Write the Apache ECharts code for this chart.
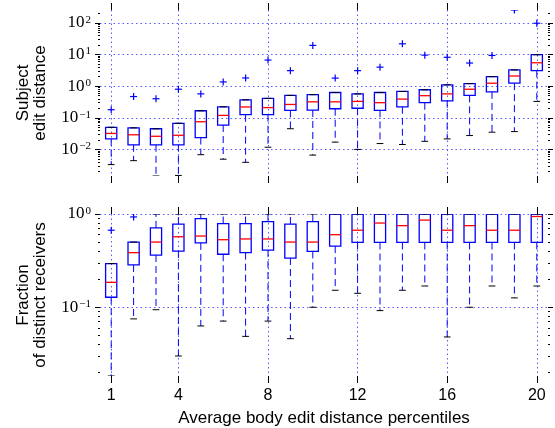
<!DOCTYPE html>
<html>
<head>
<meta charset="utf-8">
<script src="https://cdn.jsdelivr.net/npm/echarts@6/dist/echarts.min.js"></script>
<style>
  html, body { margin: 0; padding: 0; background: #fff; }
  #main { width: 555px; height: 428px; }
</style>
</head>
<body>
<div id="main"></div>
<script>
// percentile bins on the x axis
var bins = [1, 2, 3, 4, 5, 6, 7, 8, 9, 10, 11, 12, 13, 14, 15, 16, 17, 18, 19, 20];
var xTicks = [1, 4, 8, 12, 16, 20];

// top panel: subject edit distance (log scale)
var subjLow  = [0.0033, 0.0044, 0.00144, 0.0015, 0.0068, 0.0049, 0.0039, 0.0117, 0.045, 0.0066, 0.017, 0.01, 0.0153, 0.0143, 0.018, 0.0215, 0.0274, 0.035, 0.0366, 0.33];
var subjQ1   = [0.0215, 0.014, 0.014, 0.014, 0.0237, 0.059, 0.125, 0.125, 0.171, 0.176, 0.193, 0.2, 0.171, 0.223, 0.3, 0.345, 0.51, 0.66, 1.24, 3.1];
var subjMed  = [0.032, 0.029, 0.026, 0.028, 0.075, 0.119, 0.22, 0.21, 0.264, 0.32, 0.32, 0.33, 0.3, 0.39, 0.5, 0.57, 0.8, 1.24, 2.1, 5.5];
var subjQ3   = [0.05, 0.048, 0.045, 0.067, 0.167, 0.223, 0.37, 0.41, 0.51, 0.54, 0.63, 0.57, 0.63, 0.68, 0.77, 1.1, 1.21, 2.0, 3.26, 9.9];
var subjHigh = [0.05, 0.048, 0.045, 0.067, 0.167, 0.223, 0.37, 0.41, 0.51, 0.54, 0.63, 0.57, 0.63, 0.68, 0.77, 1.1, 1.21, 2.0, 3.26, 9.9];
var subjOut  = [0.18, 0.47, 0.4, 0.8, 0.57, 1.36, 1.82, 6.7, 3.1, 19.5, 1.8, 3.1, 4.0, 21.9, 9.6, 8.2, 5.4, 9.4, 257, 98];
var subjTicks = [0.01, 0.1, 1, 10, 100];

// bottom panel: fraction of distinct receivers (log scale)
var recvLow  = [0.0183, 0.075, 0.094, 0.03, 0.063, 0.071, 0.0487, 0.071, 0.046, 0.1, 0.152, 0.141, 0.092, 0.152, 0.169, 0.048, 0.1, 0.169, 0.126, 0.169];
var recvQ1   = [0.128, 0.284, 0.363, 0.4, 0.49, 0.37, 0.385, 0.41, 0.337, 0.397, 0.453, 0.495, 0.495, 0.495, 0.495, 0.495, 0.495, 0.495, 0.495, 0.495];
var recvMed  = [0.185, 0.385, 0.5, 0.57, 0.58, 0.53, 0.54, 0.54, 0.5, 0.5, 0.6, 0.67, 0.8, 0.75, 0.86, 0.67, 0.75, 0.67, 0.67, 0.94];
var recvQ3   = [0.294, 0.5, 0.71, 0.78, 0.89, 0.79, 0.79, 0.83, 0.78, 0.83, 1, 1, 1, 1, 1, 1, 1, 1, 1, 1];
var recvHigh = [0.294, 0.5, 1, 1, 1, 1, 1, 1, 1, 1, 1, 1, 1, 1, 1, 1, 1, 1, 1, 1];
var recvOutX = [1, 2];
var recvOut  = [0.67, 0.93];
var recvTicks = [0.1, 1];

var BLUE = '#0000ff', RED = '#ff0000', GRIDC = '#5a5aff';

function minorTicks(lo, hi) {
  var out = [];
  for (var e = Math.floor(Math.log10(lo)); e <= Math.ceil(Math.log10(hi)); e++) {
    for (var k = 2; k <= 9; k++) {
      var v = k * Math.pow(10, e);
      if (v >= lo && v <= hi) out.push(v);
    }
  }
  return out;
}

function supLabel(v) {
  var e = Math.round(Math.log10(v));
  return '{b|10}{s|' + (e < 0 ? '\u2212' + (-e) : e) + '}';
}

function boxItem(params, api) {
  var x = api.value(0);
  var pLow = api.coord([x, api.value(1)]);
  var pQ1 = api.coord([x, api.value(2)]);
  var pMed = api.coord([x, api.value(3)]);
  var pQ3 = api.coord([x, api.value(4)]);
  var pHigh = api.coord([x, api.value(5)]);
  var band = api.coord([x + 0.5, api.value(3)])[0] - api.coord([x - 0.5, api.value(3)])[0];
  var cx = pMed[0], hw = band * 0.25, cw = band * 0.15;
  var dash = { stroke: BLUE, lineWidth: 1, lineDash: [7, 4] };
  return {
    type: 'group',
    children: [
      { type: 'line', shape: { x1: cx, y1: pQ1[1], x2: cx, y2: pLow[1] }, style: dash },
      { type: 'line', shape: { x1: cx, y1: pQ3[1], x2: cx, y2: pHigh[1] }, style: dash },
      { type: 'rect', shape: { x: cx - hw, y: pQ3[1], width: hw * 2, height: pQ1[1] - pQ3[1] },
        style: { fill: 'none', stroke: BLUE, lineWidth: 1.3 } },
      { type: 'line', shape: { x1: cx - hw, y1: pMed[1], x2: cx + hw, y2: pMed[1] },
        style: { stroke: RED, lineWidth: 1.3 } },
      { type: 'line', shape: { x1: cx - cw, y1: pLow[1], x2: cx + cw, y2: pLow[1] },
        style: { stroke: '#000', lineWidth: 1 } },
      { type: 'line', shape: { x1: cx - cw, y1: pHigh[1], x2: cx + cw, y2: pHigh[1] },
        style: { stroke: '#000', lineWidth: 1 } }
    ]
  };
}

function plusItem(params, api) {
  var p = api.coord([api.value(0), api.value(1)]);
  var s = 3.5;
  var st = { stroke: BLUE, lineWidth: 1.2 };
  return {
    type: 'group',
    children: [
      { type: 'line', shape: { x1: p[0] - s, y1: p[1], x2: p[0] + s, y2: p[1] }, style: st },
      { type: 'line', shape: { x1: p[0], y1: p[1] - s, x2: p[0], y2: p[1] + s }, style: st }
    ]
  };
}

var panels = [
  { min: 0.00144, max: 257, labels: subjTicks,
    name: 'Subject\nedit distance',
    box: bins.map(function (b, i) { return [b, subjLow[i], subjQ1[i], subjMed[i], subjQ3[i], subjHigh[i]]; }),
    out: bins.map(function (b, i) { return [b, subjOut[i]]; }) },
  { min: 0.0183, max: 1, labels: recvTicks,
    name: 'Fraction\nof distinct receivers',
    box: bins.map(function (b, i) { return [b, recvLow[i], recvQ1[i], recvMed[i], recvQ3[i], recvHigh[i]]; }),
    out: recvOutX.map(function (b, i) { return [b, recvOut[i]]; }) }
];

var grids = [
  { left: 100, right: 7, top: 10, height: 166 },
  { left: 100, right: 7, top: 214, height: 163 }
];

var xAxes = [], yAxes = [], series = [];
panels.forEach(function (p, g) {
  var last = g === panels.length - 1;
  xAxes.push({
    gridIndex: g, type: 'value', min: 0.5, max: 20.5, position: 'bottom',
    axisLine: { show: false },
    axisTick: { show: true, inside: false, length: 7, customValues: xTicks, lineStyle: { color: '#000' } },
    axisLabel: { show: last, customValues: xTicks, margin: 12, color: '#000',
      fontFamily: 'Liberation Sans', fontSize: 16 },
    splitLine: { show: true, lineStyle: { color: GRIDC, type: [1.5, 3], width: 1 } },
    name: last ? 'Average body edit distance percentiles' : '',
    nameLocation: 'middle', nameGap: 34,
    nameTextStyle: { color: '#000', fontFamily: 'Liberation Sans', fontSize: 17 }
  });
  xAxes.push({
    gridIndex: g, type: 'value', min: 0.5, max: 20.5, position: 'top',
    axisLine: { show: false },
    axisTick: { show: true, inside: false, length: 7, customValues: xTicks, lineStyle: { color: '#000' } },
    axisLabel: { show: false }, splitLine: { show: false }
  });
  var base = yAxes.length;
  ['left', 'right'].forEach(function (side) {
    yAxes.push({
      gridIndex: g, type: 'log', logBase: 10, min: p.min, max: p.max, position: side,
      axisLine: { show: false },
      axisTick: { show: true, inside: false, length: 5, customValues: p.labels, lineStyle: { color: '#000' } },
      axisLabel: { show: side === 'left', customValues: p.labels, margin: 9, formatter: supLabel,
        rich: {
          b: { fontFamily: 'Liberation Serif', fontSize: 17, color: '#000' },
          s: { fontFamily: 'Liberation Serif', fontSize: 11, color: '#000', verticalAlign: 'top', padding: [0, 0, 6, 1] }
        } },
      splitLine: { show: side === 'left', lineStyle: { color: GRIDC, type: [1.5, 3], width: 1 } },
      name: side === 'left' ? p.name : '',
      nameLocation: 'middle', nameRotate: 90, nameGap: 51,
      nameTextStyle: { color: '#000', fontFamily: 'Liberation Sans', fontSize: 17, lineHeight: 17 }
    });
    yAxes.push({
      gridIndex: g, type: 'log', logBase: 10, min: p.min, max: p.max, position: side,
      axisLine: { show: false },
      axisTick: { show: true, inside: false, length: 2, customValues: minorTicks(p.min, p.max), lineStyle: { color: '#000' } },
      axisLabel: { show: false }, splitLine: { show: false }
    });
  });
  series.push({
    type: 'custom', xAxisIndex: g * 2, yAxisIndex: base, clip: true,
    renderItem: boxItem, encode: { x: 0, y: [1, 2, 3, 4, 5] }, data: p.box, z: 3
  });
  series.push({
    type: 'custom', xAxisIndex: g * 2, yAxisIndex: base, clip: true,
    renderItem: plusItem, encode: { x: 0, y: 1 }, data: p.out, z: 4
  });
});

var myChart = echarts.init(document.getElementById('main'), null, { renderer: 'canvas' });
myChart.setOption({
  animation: false,
  backgroundColor: '#fff',
  grid: grids,
  xAxis: xAxes,
  yAxis: yAxes,
  series: series
});
</script>
</body>
</html>
